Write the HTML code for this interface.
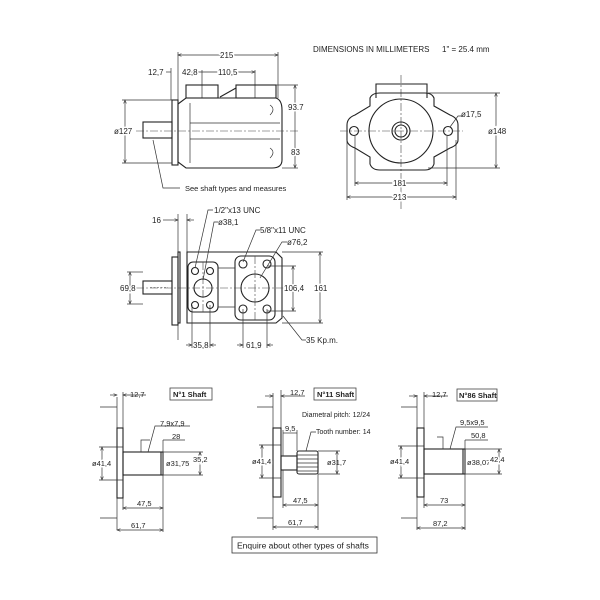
<!DOCTYPE html>
<html><head><meta charset="utf-8"><style>
html,body{margin:0;padding:0;background:#fff;}
svg{display:block;}
text{font-family:"Liberation Sans",sans-serif;fill:#222;font-size:7.5px;}
.l{stroke:#333;stroke-width:0.7;fill:none;}
.t{stroke:#222;stroke-width:1.1;fill:none;}
.c{stroke:#444;stroke-width:0.6;fill:none;stroke-dasharray:8,2,2,2;}
.h{stroke:#444;stroke-width:0.6;fill:none;stroke-dasharray:2,1.5;}
</style></head><body>
<svg width="600" height="600" viewBox="0 0 600 600" xmlns="http://www.w3.org/2000/svg">
<defs><marker id="a" markerWidth="6" markerHeight="6" refX="5" refY="3" orient="auto-start-reverse"><path d="M0,1 L5,3 L0,5" fill="none" stroke="#333" stroke-width="0.8"/></marker></defs>

<text x="313" y="52" style="font-size:8px">DIMENSIONS IN MILLIMETERS</text>
<text x="442" y="52" style="font-size:8px">1" = 25.4 mm</text>

<!-- TOP LEFT VIEW -->
<g>
<line class="l" x1="178" y1="52" x2="178" y2="100"/><line class="l" x1="278" y1="52" x2="278" y2="98"/>
<line class="l" x1="178" y1="55" x2="278" y2="55" marker-start="url(#a)" marker-end="url(#a)"/>
<text x="220" y="58" style="font-size:8px;paint-order:stroke;stroke:#fff;stroke-width:3">215</text>
<text x="148" y="75" style="font-size:8px">12,7</text>
<line class="l" x1="166" y1="72" x2="171" y2="72"/><line class="l" x1="171" y1="68" x2="171" y2="100"/>
<line class="l" x1="182" y1="72" x2="202" y2="72"/>
<text x="182" y="75" style="font-size:8px;paint-order:stroke;stroke:#fff;stroke-width:3">42,8</text>
<line class="l" x1="202" y1="72" x2="255" y2="72" marker-end="url(#a)"/>
<text x="218" y="75" style="font-size:8px;paint-order:stroke;stroke:#fff;stroke-width:3">110,5</text>
<line class="l" x1="202" y1="70" x2="202" y2="98"/><line class="l" x1="255" y1="70" x2="255" y2="98"/>
<rect class="t" x="186" y="85" width="32" height="13"/>
<rect class="t" x="236" y="85" width="40" height="13"/>
<line class="t" x1="220" y1="97" x2="236" y2="88"/>
<rect class="t" x="172" y="100" width="6" height="65"/>
<path class="t" d="M178,104 L186,98 L276,98 Q282,100 282,110 L282,160 Q282,168 272,168 L186,168 L178,162 Z"/>
<path class="l" d="M190,103 L190,163 M270,105 q6,4 0,10 M270,148 q6,4 0,10"/>
<path class="l" d="M190,123 L280,123 M190,139 L280,139"/>
<rect class="t" x="143" y="122" width="29" height="16"/>
<line class="c" x1="136" y1="131" x2="300" y2="131"/>
<line class="l" x1="122" y1="100" x2="172" y2="100"/><line class="l" x1="122" y1="163" x2="172" y2="163"/>
<line class="l" x1="125" y1="100" x2="125" y2="163" marker-start="url(#a)" marker-end="url(#a)"/>
<text x="114" y="134" style="font-size:8px;paint-order:stroke;stroke:#fff;stroke-width:3">ø127</text>
<line class="l" x1="276" y1="85" x2="298" y2="85"/><line class="l" x1="282" y1="168" x2="298" y2="168"/>
<line class="l" x1="295" y1="85" x2="295" y2="168" marker-start="url(#a)" marker-end="url(#a)"/>
<text x="288" y="110" style="font-size:8px;paint-order:stroke;stroke:#fff;stroke-width:3">93.7</text>
<text x="291" y="155" style="font-size:8px;paint-order:stroke;stroke:#fff;stroke-width:3">83</text>
<polyline class="l" points="153,140 163,188 180,188"/>
<text x="185" y="191">See shaft types and measures</text>
</g>

<!-- TOP RIGHT VIEW -->
<g>
<line class="c" x1="401" y1="75" x2="401" y2="210"/>
<path class="t" d="M376,98 L376,84 L427,84 L427,98"/>
<path class="t" d="M347,125 Q347,118 355,115 L370,106 L370,98 Q372,93 380,93 L425,93 Q432,93 434,98 L434,106 L450,115 Q458,118 458,125 L458,140 Q458,145 450,148 L434,157 L434,164 Q432,170 425,170 L380,170 Q372,170 370,164 L370,157 L355,148 Q347,145 347,140 Z"/>
<circle class="t" cx="401" cy="131" r="32"/>
<circle class="t" cx="401" cy="131" r="9"/><circle class="t" cx="401" cy="131" r="6"/>
<circle class="t" cx="354" cy="131" r="4.5"/><circle class="t" cx="448" cy="131" r="4.5"/>
<line class="c" x1="340" y1="131" x2="463" y2="131"/>
<line class="l" x1="428" y1="93" x2="500" y2="93"/><line class="l" x1="428" y1="168" x2="500" y2="168"/>
<line class="l" x1="496" y1="93" x2="496" y2="168" marker-start="url(#a)" marker-end="url(#a)"/>
<text x="488" y="134" style="font-size:8px;paint-order:stroke;stroke:#fff;stroke-width:3">ø148</text>
<polyline class="l" points="450,127 458,116 462,116"/>
<text x="461" y="117" style="font-size:8px">ø17,5</text>
<line class="l" x1="355" y1="136" x2="355" y2="186"/><line class="l" x1="447" y1="136" x2="447" y2="186"/>
<line class="l" x1="355" y1="183" x2="447" y2="183" marker-start="url(#a)" marker-end="url(#a)"/>
<text x="393" y="186" style="font-size:8px;paint-order:stroke;stroke:#fff;stroke-width:3">181</text>
<line class="l" x1="347" y1="140" x2="347" y2="200"/><line class="l" x1="456" y1="140" x2="456" y2="200"/>
<line class="l" x1="347" y1="197" x2="456" y2="197" marker-start="url(#a)" marker-end="url(#a)"/>
<text x="393" y="200" style="font-size:8px;paint-order:stroke;stroke:#fff;stroke-width:3">213</text>
</g>

<!-- MIDDLE VIEW -->
<g>
<text x="152" y="223" style="font-size:8px">16</text>
<line class="l" x1="163" y1="220" x2="178" y2="220" marker-end="url(#a)"/><line class="l" x1="187" y1="220" x2="194" y2="220" marker-start="url(#a)"/>
<line class="l" x1="178" y1="214" x2="178" y2="340"/><line class="l" x1="187" y1="214" x2="187" y2="252"/>
<rect class="t" x="172" y="257" width="6" height="68"/>
<rect class="t" x="178" y="252" width="2" height="71"/>
<path class="t" d="M187,252 L276,252 L282,258 L282,318 L276,323 L187,323 Z"/>
<rect class="t" x="188" y="262" width="30" height="50" rx="5"/>
<rect class="t" x="235" y="256" width="40" height="64" rx="6"/>
<line class="l" x1="218" y1="268" x2="235" y2="268"/><line class="l" x1="218" y1="307" x2="235" y2="307"/>
<circle class="t" cx="203" cy="288" r="9"/><circle class="t" cx="255" cy="288" r="14"/>
<circle class="t" cx="195" cy="271" r="3.5"/><circle class="t" cx="210" cy="271" r="3.5"/>
<circle class="t" cx="195" cy="305" r="3.5"/><circle class="t" cx="210" cy="305" r="3.5"/>
<circle class="t" cx="243" cy="264" r="4"/><circle class="t" cx="267" cy="264" r="4"/>
<circle class="t" cx="243" cy="309" r="4"/><circle class="t" cx="267" cy="309" r="4"/>
<rect class="t" x="143" y="281" width="29" height="13"/>
<line class="h" x1="150" y1="287.5" x2="168" y2="287.5"/>
<line class="c" x1="136" y1="288" x2="300" y2="288"/>
<line class="c" x1="203" y1="262" x2="203" y2="312"/><line class="c" x1="255" y1="256" x2="255" y2="320"/>
<line class="l" x1="127" y1="272" x2="143" y2="272"/><line class="l" x1="127" y1="304" x2="143" y2="304"/>
<line class="l" x1="130" y1="272" x2="130" y2="304" marker-start="url(#a)" marker-end="url(#a)"/>
<text x="120" y="291" style="font-size:8px;paint-order:stroke;stroke:#fff;stroke-width:3">69,8</text>
<line class="l" x1="267" y1="266" x2="296" y2="266"/><line class="l" x1="267" y1="311" x2="296" y2="311"/>
<line class="l" x1="293" y1="266" x2="293" y2="311" marker-start="url(#a)" marker-end="url(#a)"/>
<text x="284" y="291" style="font-size:8px;paint-order:stroke;stroke:#fff;stroke-width:3">106,4</text>
<line class="l" x1="282" y1="252" x2="323" y2="252"/><line class="l" x1="282" y1="323" x2="323" y2="323"/>
<line class="l" x1="320" y1="252" x2="320" y2="323" marker-start="url(#a)" marker-end="url(#a)"/>
<text x="314" y="291" style="font-size:8px;paint-order:stroke;stroke:#fff;stroke-width:3">161</text>
<line class="l" x1="192" y1="305" x2="192" y2="348"/><line class="l" x1="210" y1="305" x2="210" y2="348"/>
<line class="l" x1="186" y1="345" x2="192" y2="345" marker-end="url(#a)"/><line class="l" x1="210" y1="345" x2="216" y2="345" marker-start="url(#a)"/>
<text x="193" y="348" style="font-size:8px">35,8</text>
<line class="l" x1="243" y1="309" x2="243" y2="348"/><line class="l" x1="267" y1="309" x2="267" y2="348"/>
<line class="l" x1="237" y1="345" x2="243" y2="345" marker-end="url(#a)"/><line class="l" x1="267" y1="345" x2="273" y2="345" marker-start="url(#a)"/>
<text x="246" y="348" style="font-size:8px">61,9</text>
<polyline class="l" points="195,268 208,210 213,210"/><text x="214" y="213" style="font-size:8px">1/2"x13 UNC</text>
<polyline class="l" points="203,280 214,222 218,222"/><text x="218" y="225" style="font-size:8px">ø38,1</text>
<polyline class="l" points="243,262 256,230 260,230"/><text x="260" y="233" style="font-size:8px">5/8"x11 UNC</text>
<polyline class="l" points="260,278 282,242 287,242"/><text x="287" y="245" style="font-size:8px">ø76,2</text>
<polyline class="l" points="283,316 302,340 306,340"/><text x="306" y="343" style="font-size:8px">35 Kp.m.</text>
</g>

<!-- SHAFT 1 -->
<g>
<path class="l" d="M100,407 L117,407 M100,518 L117,518 M117,397 L117,530 M123,392 L123,428"/>
<rect class="t" x="117" y="428" width="6" height="70"/>
<rect class="t" x="123" y="452" width="40" height="23"/>
<line class="t" x1="161" y1="452" x2="161" y2="475"/>
<text x="130" y="397">12,7</text><line class="l" x1="110" y1="395" x2="117" y2="395" marker-end="url(#a)"/><line class="l" x1="123" y1="395" x2="146" y2="395" marker-start="url(#a)"/>
<rect x="170" y="388" width="42" height="12" fill="#fff" stroke="#444" stroke-width="0.8"/><text x="173" y="397" style="font-weight:bold">N°1 Shaft</text>
<text x="160" y="426">7,9x7,9</text><polyline class="l" points="150,440 141,440 141,452 M0,0"/><polyline class="l" points="148,452 155,426 190,426"/>
<text x="172" y="439">28</text><line class="l" x1="163" y1="440" x2="185" y2="440"/><line class="l" x1="163" y1="440" x2="163" y2="532"/>
<line class="l" x1="99" y1="447" x2="123" y2="447"/><line class="l" x1="99" y1="480" x2="123" y2="480"/>
<line class="l" x1="102" y1="447" x2="102" y2="480" marker-start="url(#a)" marker-end="url(#a)"/>
<text x="92" y="466" style="paint-order:stroke;stroke:#fff;stroke-width:3">ø41,4</text>
<text x="166" y="466">ø31,75</text>
<line class="l" x1="163" y1="452" x2="203" y2="452"/><line class="l" x1="163" y1="475" x2="203" y2="475"/>
<line class="l" x1="200" y1="452" x2="200" y2="475" marker-start="url(#a)" marker-end="url(#a)"/>
<text x="193" y="462" style="paint-order:stroke;stroke:#fff;stroke-width:3">35,2</text>
<line class="l" x1="123" y1="498" x2="123" y2="510"/>
<line class="l" x1="123" y1="508" x2="163" y2="508" marker-start="url(#a)" marker-end="url(#a)"/><text x="137" y="506">47,5</text>
<line class="l" x1="117" y1="530" x2="163" y2="530" marker-start="url(#a)" marker-end="url(#a)"/><text x="131" y="528">61,7</text>
</g>

<!-- SHAFT 11 -->
<g>
<path class="l" d="M257,407 L273,407 M257,518 L273,518 M273,393 L273,530 M281,390 L281,428"/>
<rect class="t" x="273" y="428" width="8" height="69"/>
<rect class="t" x="281" y="456" width="16" height="14"/>
<rect class="t" x="297" y="451" width="21" height="23" rx="2"/>
<path class="l" d="M297,455 L318,455 M297,459 L318,459 M297,463 L318,463 M297,467 L318,467 M297,471 L318,471"/>
<text x="290" y="395">12,7</text><line class="l" x1="265" y1="396" x2="273" y2="396" marker-end="url(#a)"/><line class="l" x1="281" y1="396" x2="305" y2="396" marker-start="url(#a)"/>
<rect x="314" y="388" width="42" height="12" fill="#fff" stroke="#444" stroke-width="0.8"/><text x="317" y="397" style="font-weight:bold">N°11 Shaft</text>
<text x="302" y="417" style="font-size:7px">Diametral pitch: 12/24</text>
<text x="316" y="434" style="font-size:7px">Tooth number: 14</text>
<polyline class="l" points="306,451 311,432 316,432"/>
<text x="285" y="431">9,5</text><line class="l" x1="283" y1="433" x2="297" y2="433"/><line class="l" x1="283" y1="430" x2="283" y2="456"/><line class="l" x1="297" y1="430" x2="297" y2="451"/>
<line class="l" x1="259" y1="445" x2="281" y2="445"/><line class="l" x1="259" y1="478" x2="281" y2="478"/>
<line class="l" x1="262" y1="445" x2="262" y2="478" marker-start="url(#a)" marker-end="url(#a)"/>
<text x="252" y="464" style="paint-order:stroke;stroke:#fff;stroke-width:3">ø41,4</text>
<text x="327" y="465">ø31,7</text>
<line class="l" x1="318" y1="451" x2="340" y2="451"/><line class="l" x1="318" y1="474" x2="340" y2="474"/>
<line class="l" x1="337" y1="451" x2="337" y2="474" marker-start="url(#a)" marker-end="url(#a)"/>
<line class="l" x1="283" y1="470" x2="283" y2="508"/><line class="l" x1="318" y1="474" x2="318" y2="530"/>
<line class="l" x1="283" y1="505" x2="318" y2="505" marker-start="url(#a)" marker-end="url(#a)"/><text x="293" y="503">47,5</text>
<line class="l" x1="273" y1="527" x2="318" y2="527" marker-start="url(#a)" marker-end="url(#a)"/><text x="288" y="525">61,7</text>
</g>

<!-- SHAFT 86 -->
<g>
<path class="l" d="M401,407 L417,407 M401,518 L417,518 M417,395 L417,530 M424,392 L424,428"/>
<rect class="t" x="417" y="428" width="7" height="69"/>
<rect class="t" x="424" y="449" width="41" height="25"/>
<line class="t" x1="463" y1="449" x2="463" y2="474"/>
<text x="432" y="397">12,7</text><line class="l" x1="409" y1="396" x2="417" y2="396" marker-end="url(#a)"/><line class="l" x1="424" y1="396" x2="448" y2="396" marker-start="url(#a)"/>
<rect x="457" y="389" width="40" height="12" fill="#fff" stroke="#444" stroke-width="0.8"/><text x="459" y="398" style="font-weight:bold">N°86 Shaft</text>
<text x="460" y="425">9,5x9,5</text><polyline class="l" points="450,449 456,427 488,427"/><polyline class="l" points="437,437 443,437 443,449"/>
<text x="471" y="438">50,8</text><line class="l" x1="465" y1="440" x2="488" y2="440"/><line class="l" x1="465" y1="440" x2="465" y2="530"/>
<line class="l" x1="398" y1="446" x2="424" y2="446"/><line class="l" x1="398" y1="478" x2="424" y2="478"/>
<line class="l" x1="401" y1="446" x2="401" y2="478" marker-start="url(#a)" marker-end="url(#a)"/>
<text x="390" y="464" style="paint-order:stroke;stroke:#fff;stroke-width:3">ø41,4</text>
<text x="467" y="465">ø38,07</text>
<line class="l" x1="465" y1="449" x2="502" y2="449"/><line class="l" x1="465" y1="474" x2="502" y2="474"/>
<line class="l" x1="499" y1="449" x2="499" y2="474" marker-start="url(#a)" marker-end="url(#a)"/>
<text x="490" y="462" style="paint-order:stroke;stroke:#fff;stroke-width:3">42,4</text>
<line class="l" x1="424" y1="497" x2="424" y2="508"/>
<line class="l" x1="424" y1="505" x2="465" y2="505" marker-start="url(#a)" marker-end="url(#a)"/><text x="440" y="503">73</text>
<line class="l" x1="417" y1="528" x2="465" y2="528" marker-start="url(#a)" marker-end="url(#a)"/><text x="433" y="526">87,2</text>
</g>

<rect x="232" y="537" width="145" height="16" fill="#fff" stroke="#333" stroke-width="0.8"/>
<text x="237" y="548.5" style="font-size:8.5px">Enquire about other types of shafts</text>
</svg>
</body></html>
